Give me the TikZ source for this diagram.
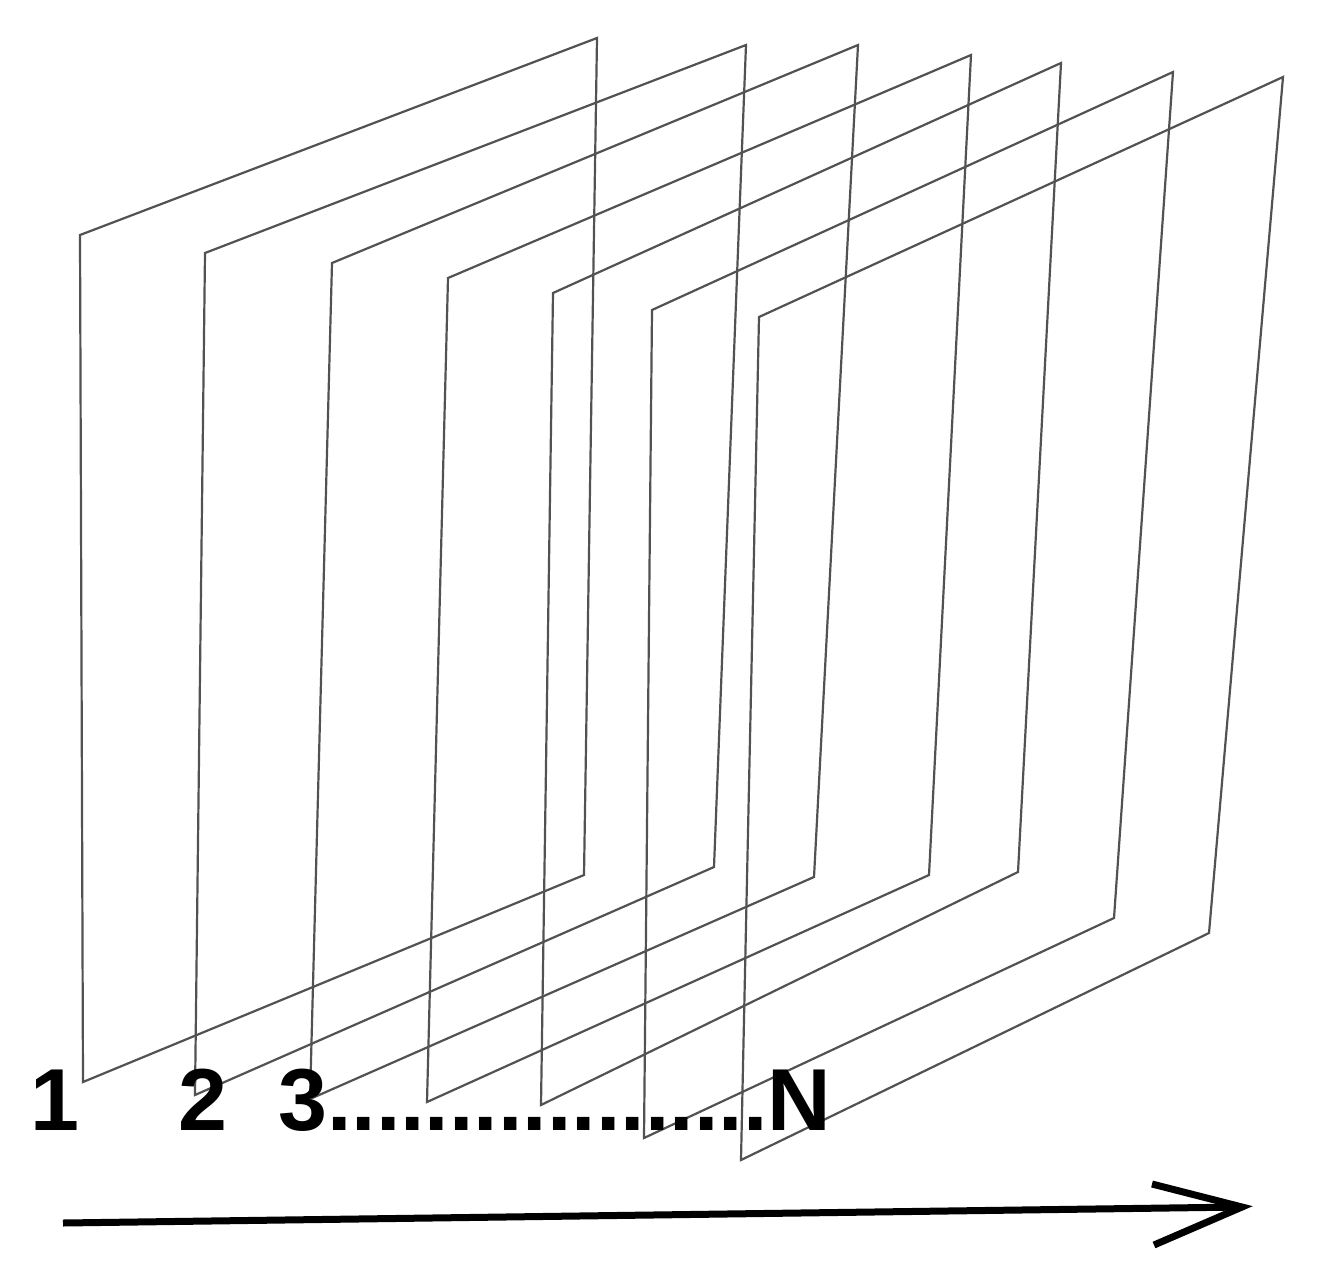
\documentclass[tikz,border=0pt]{standalone}
\usepackage{fontspec}
\setmainfont{Liberation Sans}
\begin{document}
\begin{tikzpicture}[x=1pt,y=-1pt,
  plane/.style={draw=black!68,line width=2.2pt,line join=miter},
  lbl/.style={font=\fontsize{88}{88}\selectfont\bfseries,inner sep=0pt,anchor=base west},
  axisline/.style={draw=black,line width=7pt,line cap=butt,line join=miter}]
\useasboundingbox (0,0) rectangle (1320,1285);
% planes: TL, TR, BR, BL
\foreach \a/\b/\c/\d/\e/\f/\g/\h in {
  80/235/597/38/584/875/83/1082,
  205/253/746/45/714/867/195/1095,
  332/263/858/45/814/877/310/1099,
  448/278/971/55/929/875/427/1102,
  553/293/1061/63/1018/872/541/1105,
  652/310/1173/72/1114/918/644/1138,
  759/317/1283/77/1209/933/741/1160}{
  \draw[plane] (\a,\b) -- (\c,\d) -- (\e,\f) -- (\g,\h) -- cycle;
}
% labels
\node[lbl] (one) at (30,1130) {1};
\node[lbl] (two) at (178,1130) {2};
\node[lbl] (three) at (278,1130) {3..................N};
% arrow
\coordinate (s) at (63,1223);
\coordinate (t) at (1242,1207);
\coordinate (b1) at (1152,1184);
\coordinate (b2) at (1154,1245);
\draw[axisline] (s) -- (t);
\draw[axisline] (b1) -- (t) -- (b2);
\end{tikzpicture}
\end{document}
